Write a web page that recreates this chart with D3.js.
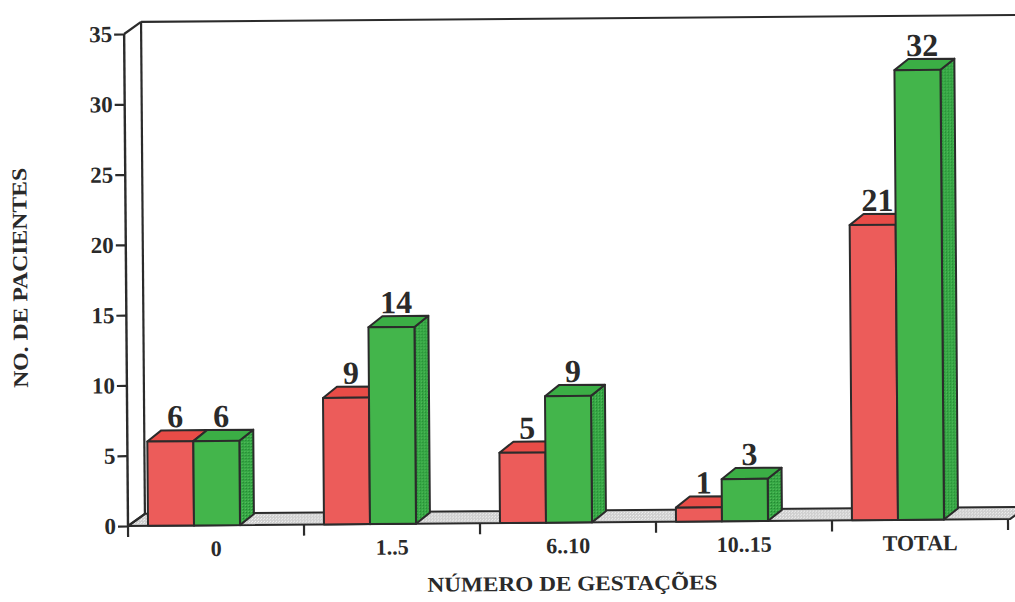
<!DOCTYPE html>
<html>
<head>
<meta charset="utf-8">
<script src="https://cdn.jsdelivr.net/npm/d3@7"></script>
<style>
  html, body { margin: 0; padding: 0; background: #ffffff; }
  svg { display: block; }
  text { font-family: "Liberation Serif", "Times New Roman", serif; font-weight: bold; fill: #2a2a2a; }
</style>
</head>
<body>
<svg id="chart" width="1015" height="602"></svg>
<script>
// Number of patients by number of pregnancies, two groups
const categories = ["0", "1..5", "6..10", "10..15", "TOTAL"];
const seriesRed = [6, 9, 5, 1, 21];
const seriesGreen = [6, 14, 9, 3, 32];
const yTicks = [0, 5, 10, 15, 20, 25, 30, 35];
const yTitle = "NO. DE PACIENTES";
const xTitle = "NÚMERO DE GESTAÇÕES";

const svg = d3.select("#chart");
const ink = "#2b2b2b";

// textures for the floor and the shaded bar sides
const defs = svg.append("defs");
const floorPat = defs.append("pattern").attr("id", "floorTex")
  .attr("patternUnits", "userSpaceOnUse").attr("width", 3).attr("height", 3);
floorPat.append("rect").attr("width", 3).attr("height", 3).attr("fill", "#cfcfcf");
floorPat.append("rect").attr("width", 1).attr("height", 1).attr("fill", "#f4f4f4");
floorPat.append("rect").attr("x", 2).attr("y", 1).attr("width", 1).attr("height", 1).attr("fill", "#ebebeb");

const sidePat = defs.append("pattern").attr("id", "sideTex")
  .attr("patternUnits", "userSpaceOnUse").attr("width", 3).attr("height", 3);
sidePat.append("rect").attr("width", 3).attr("height", 3).attr("fill", "#36a845");
sidePat.append("rect").attr("width", 1).attr("height", 1).attr("fill", "#1f7d2c");
sidePat.append("rect").attr("x", 2).attr("y", 2).attr("width", 1).attr("height", 1).attr("fill", "#5cc262");

// geometry of the plot box
const x0 = 128, x1 = 1008, yBase = 526;
const wall = { dx: 17, dy: -12 };
const depth = { dx: 14, dy: -11 };

const x = d3.scaleBand().domain(categories).range([x0, x1]).paddingInner(0).paddingOuter(0);
const sub = d3.scaleBand().domain(["red", "green"]).range([20, 112]).paddingInner(0);
const y = d3.scaleLinear().domain([0, 35]).range([yBase, 34]);

// whole chart sits on a very slight tilt
const g = svg.append("g").attr("transform", `rotate(-0.45, ${x0}, ${yBase})`);

// floor
g.append("path")
  .attr("d", d3.line()([[x0, yBase], [x1 + 2, yBase], [x1 + 2 + wall.dx, yBase + wall.dy], [x0 + wall.dx, yBase + wall.dy]]) + "Z")
  .attr("fill", "url(#floorTex)").attr("stroke", ink).attr("stroke-width", 2).attr("stroke-linejoin", "round");

// back wall edges
const wallLines = [
  [[x0 + wall.dx, yBase + wall.dy], [x0 + wall.dx, y(35) + wall.dy]],
  [[x0 + wall.dx, y(35) + wall.dy], [1040, y(35) + wall.dy]],
  [[x0, y(35)], [x0 + wall.dx, y(35) + wall.dy]],
  [[x0, yBase], [x0 + wall.dx, yBase + wall.dy]]
];
g.selectAll("path.wall").data(wallLines).join("path").attr("class", "wall")
  .attr("d", d => d3.line()(d)).attr("fill", "none").attr("stroke", ink).attr("stroke-width", 2.2);

// y axis
const yAxis = g.append("g").attr("transform", `translate(${x0},0)`)
  .call(d3.axisLeft(y).tickValues(yTicks).tickSize(10).tickPadding(2));
yAxis.select(".domain").remove();
yAxis.selectAll(".tick line").attr("stroke", ink).attr("stroke-width", 2.2);
yAxis.selectAll(".tick text").attr("font-size", 23).attr("font-family", "Liberation Serif")
  .attr("font-weight", "bold").attr("fill", "#2a2a2a");
g.append("line").attr("x1", x0).attr("x2", x0).attr("y1", y(35)).attr("y2", yBase + 1)
  .attr("stroke", ink).attr("stroke-width", 2.4);

// x axis: ticks at band edges, labels centred in bands
const edges = categories.map(c => x(c)).concat([x1]);
g.selectAll("line.xtick").data(edges).join("line").attr("class", "xtick")
  .attr("x1", d => d).attr("x2", d => d).attr("y1", yBase).attr("y2", yBase + 11)
  .attr("stroke", ink).attr("stroke-width", 2.2);
const xAxis = g.append("g").attr("transform", `translate(0,${yBase})`)
  .call(d3.axisBottom(x).tickSize(0).tickPadding(15));
xAxis.select(".domain").remove();
xAxis.selectAll(".tick text").attr("font-size", 22).attr("font-family", "Liberation Serif")
  .attr("font-weight", "bold").attr("fill", "#2a2a2a");

// bars with a top and side face
const palette = {
  red: { front: "#ec5c5a", top: "#e84c47", side: "#d84040" },
  green: { front: "#43b54b", top: "#3bae45", side: "url(#sideTex)" }
};
const bars = [];
categories.forEach((c, i) => {
  bars.push({ cat: c, key: "red", value: seriesRed[i] });
  bars.push({ cat: c, key: "green", value: seriesGreen[i] });
});
const w = sub.bandwidth();
const barG = g.selectAll("g.bar").data(bars).join("g").attr("class", "bar");
barG.each(function (d) {
  const sel = d3.select(this);
  const bx = x(d.cat) + sub(d.key);
  const by = y(d.value);
  const col = palette[d.key];
  sel.append("path")
    .attr("d", d3.line()([[bx + w, by], [bx + w + depth.dx, by + depth.dy], [bx + w + depth.dx, yBase + depth.dy], [bx + w, yBase]]) + "Z")
    .attr("fill", col.side).attr("stroke", ink).attr("stroke-width", 2).attr("stroke-linejoin", "round");
  sel.append("path")
    .attr("d", d3.line()([[bx, by], [bx + depth.dx, by + depth.dy], [bx + w + depth.dx, by + depth.dy], [bx + w, by]]) + "Z")
    .attr("fill", col.top).attr("stroke", ink).attr("stroke-width", 2).attr("stroke-linejoin", "round");
  sel.append("rect").attr("x", bx).attr("y", by).attr("width", w).attr("height", yBase - by)
    .attr("fill", col.front).attr("stroke", ink).attr("stroke-width", 2).attr("stroke-linejoin", "round");
});

// value labels
g.selectAll("text.val").data(bars).join("text").attr("class", "val")
  .attr("x", d => x(d.cat) + sub(d.key) + w / 2 + 5)
  .attr("y", d => y(d.value) + depth.dy - 3)
  .attr("text-anchor", "middle").attr("font-size", 32)
  .text(d => d.value);

// axis titles
g.append("text").attr("x", 572).attr("y", 594).attr("text-anchor", "middle")
  .attr("font-size", 21).attr("textLength", 290).attr("lengthAdjust", "spacingAndGlyphs")
  .text(xTitle);
g.append("text").attr("transform", "translate(29,277) rotate(-90)").attr("text-anchor", "middle")
  .attr("font-size", 21).attr("textLength", 220).attr("lengthAdjust", "spacingAndGlyphs")
  .text(yTitle);
</script>
</body>
</html>
